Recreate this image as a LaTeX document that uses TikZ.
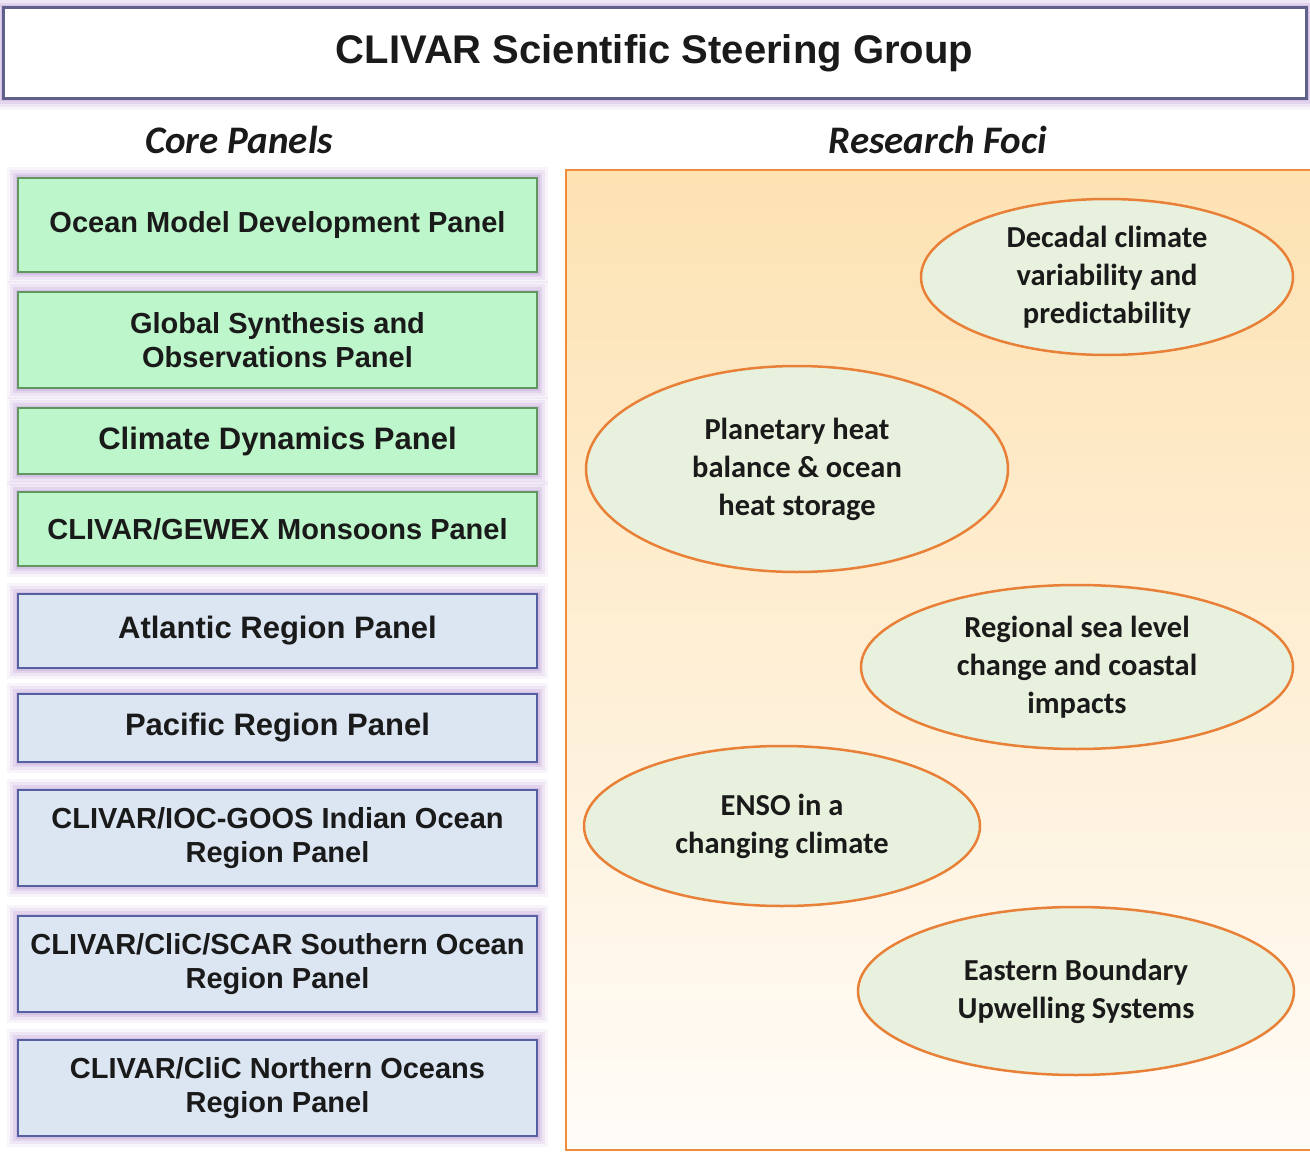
\documentclass[tikz,border=0pt]{standalone}
\usepackage{fontspec}
\newfontfamily\arialfont{Liberation Sans}
\newfontfamily\calibrifont{Carlito}
\usetikzlibrary{shapes.geometric}
\definecolor{glowc}{RGB}{185,150,212}
\definecolor{greenfill}{RGB}{188,246,202}
\definecolor{greenline}{RGB}{96,150,96}
\definecolor{bluefill}{RGB}{220,230,243}
\definecolor{blueline}{RGB}{84,96,160}
\definecolor{titleline}{RGB}{96,96,140}
\definecolor{focitop}{RGB}{253,226,178}
\definecolor{focimid}{RGB}{253,231,192}
\definecolor{focibot}{RGB}{255,252,248}
\definecolor{fociline}{RGB}{240,140,60}
\definecolor{ovalfill}{RGB}{232,241,222}
\definecolor{ovalline}{RGB}{232,128,56}
\definecolor{inktext}{RGB}{26,26,26}

\begin{document}
\begin{tikzpicture}[x=1pt, y=-1pt,
		glow/.style={preaction={draw=glowc, line width=22pt, opacity=0.10},
			preaction={draw=glowc, line width=16pt, opacity=0.14},
			preaction={draw=glowc, line width=10pt, opacity=0.22},
			preaction={draw=glowc, line width=5pt, opacity=0.3}},
		panel/.style={glow, line width=1.5pt, minimum width=519pt, inner sep=0pt, align=center, text=inktext, font=\arialfont\bfseries\fontsize{29}{34}\selectfont},
		corebox/.style={panel, draw=greenline, fill=greenfill},
		regionbox/.style={panel, draw=blueline, fill=bluefill, line width=2pt},
		bigtext/.style={font=\arialfont\bfseries\fontsize{31}{34}\selectfont},
		focus/.style={ellipse, draw=ovalline, fill=ovalfill, line width=2.5pt, inner sep=0pt, align=center, text=inktext, font=\calibrifont\bfseries\fontsize{30.5}{38}\selectfont},
		head/.style={text=inktext, font=\calibrifont\bfseries\itshape\fontsize{39}{44}\selectfont}]
		%%%%% START %%%%%
		\useasboundingbox[fill=white] (0,0) rectangle (1310,1153);
		
		% steering group
		\node (ssg) [glow, draw=titleline, line width=3pt, fill=white, minimum width=1303pt, minimum height=91pt, inner sep=0pt, text=inktext, font=\arialfont\bfseries\fontsize{40}{44}\selectfont] at (654.5,53.5) {CLIVAR Scientific Steering Group};
		
		\node (corehead) [head] at (239,140) {Core Panels};
		\node (focihead) [head] at (938,140) {Research Foci};
		
		% core panels
		\node (omdp) [corebox, minimum height=94pt] at (277.5,225) {Ocean Model Development Panel};
		\node (gsop) [corebox, minimum height=96pt] at (277.5,340) {Global Synthesis and\\Observations Panel};
		\node (cdp) [corebox, bigtext, minimum height=66pt] at (277.5,441) {Climate Dynamics Panel};
		\node (monsoon) [corebox, minimum height=74pt] at (277.5,529) {CLIVAR/GEWEX Monsoons Panel};
		
		% region panels
		\node (atlantic) [regionbox, bigtext, minimum height=74pt] at (277.5,631) {Atlantic Region Panel};
		\node (pacific) [regionbox, bigtext, minimum height=68pt] at (277.5,728) {Pacific Region Panel};
		\node (indian) [regionbox, minimum height=96pt] at (277.5,838) {CLIVAR/IOC-GOOS Indian Ocean\\Region Panel};
		\node (southern) [regionbox, minimum height=96pt] at (277.5,964) {CLIVAR/CliC/SCAR Southern Ocean\\Region Panel};
		\node (northern) [regionbox, minimum height=96pt] at (277.5,1088) {CLIVAR/CliC Northern Oceans\\Region Panel};
		
		% research foci
		\node (focibox) [draw=fociline, line width=2.5pt, top color=focitop, middle color=focimid, bottom color=focibot, minimum width=748pt, minimum height=980pt, inner sep=0pt] at (940,660) {};
		
		\node (decadal) [focus, minimum width=372pt, minimum height=156pt] at (1107,277) {Decadal climate\\variability and\\predictability};
		\node (heat) [focus, minimum width=422pt, minimum height=206pt] at (797,469) {Planetary heat\\balance \& ocean\\heat storage};
		\node (sealevel) [focus, minimum width=432pt, minimum height=164pt] at (1077,667) {Regional sea level\\change and coastal\\impacts};
		\node (enso) [focus, minimum width=396pt, minimum height=160pt] at (782,826) {ENSO in a\\changing climate};
		\node (upwelling) [focus, minimum width=436pt, minimum height=168pt] at (1076,991) {Eastern Boundary\\Upwelling Systems};
		%%%%% END %%%%%
	\end{tikzpicture}
\end{document}
